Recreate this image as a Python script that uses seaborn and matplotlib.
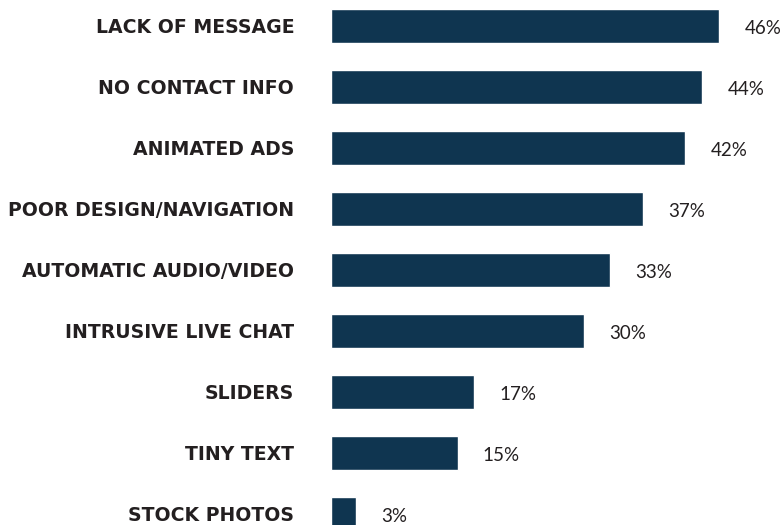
import matplotlib
matplotlib.use("Agg")
import matplotlib.pyplot as plt
import seaborn as sns
import pandas as pd

sns.set_theme(style="white")

categories = [
    "LACK OF MESSAGE",
    "NO CONTACT INFO",
    "ANIMATED ADS",
    "POOR DESIGN/NAVIGATION",
    "AUTOMATIC AUDIO/VIDEO",
    "INTRUSIVE LIVE CHAT",
    "SLIDERS",
    "TINY TEXT",
    "STOCK PHOTOS",
]
percent = [46, 44, 42, 37, 33, 30, 17, 15, 3]

df = pd.DataFrame({"Issue": categories, "Percent": percent})

BAR_COLOR = "#0f3550"
TEXT_COLOR = "#231f20"

fig = plt.figure(figsize=(7.84, 5.25), dpi=100)
# axes placed in figure pixels; last bar runs off the bottom like the original
ax = fig.add_axes([331 / 784, -0.037, 422 / 784, 1.0457])

sns.barplot(data=df, y="Issue", x="Percent", orient="h", color=BAR_COLOR,
            saturation=1, width=0.55, ax=ax)

ax.set_xlim(0, 50)
ax.set_ylim(8.5, -0.5)
ax.set_xlabel("")
ax.set_ylabel("")
ax.set_xticks([])
for s in ax.spines.values():
    s.set_visible(False)
ax.tick_params(axis="y", length=0, pad=26.5)
for lbl in ax.get_yticklabels():
    lbl.set_fontsize(13.6)
    lbl.set_fontweight("bold")
    lbl.set_color(TEXT_COLOR)
    lbl.set_fontfamily("DejaVu Sans")

for i, v in enumerate(percent):
    ax.text(v + 3.0, i + 0.04, f"{v}%", va="center", ha="left",
            fontsize=13.5, color=TEXT_COLOR, family="Lato", clip_on=False)

fig.savefig("out.png", dpi=100)
